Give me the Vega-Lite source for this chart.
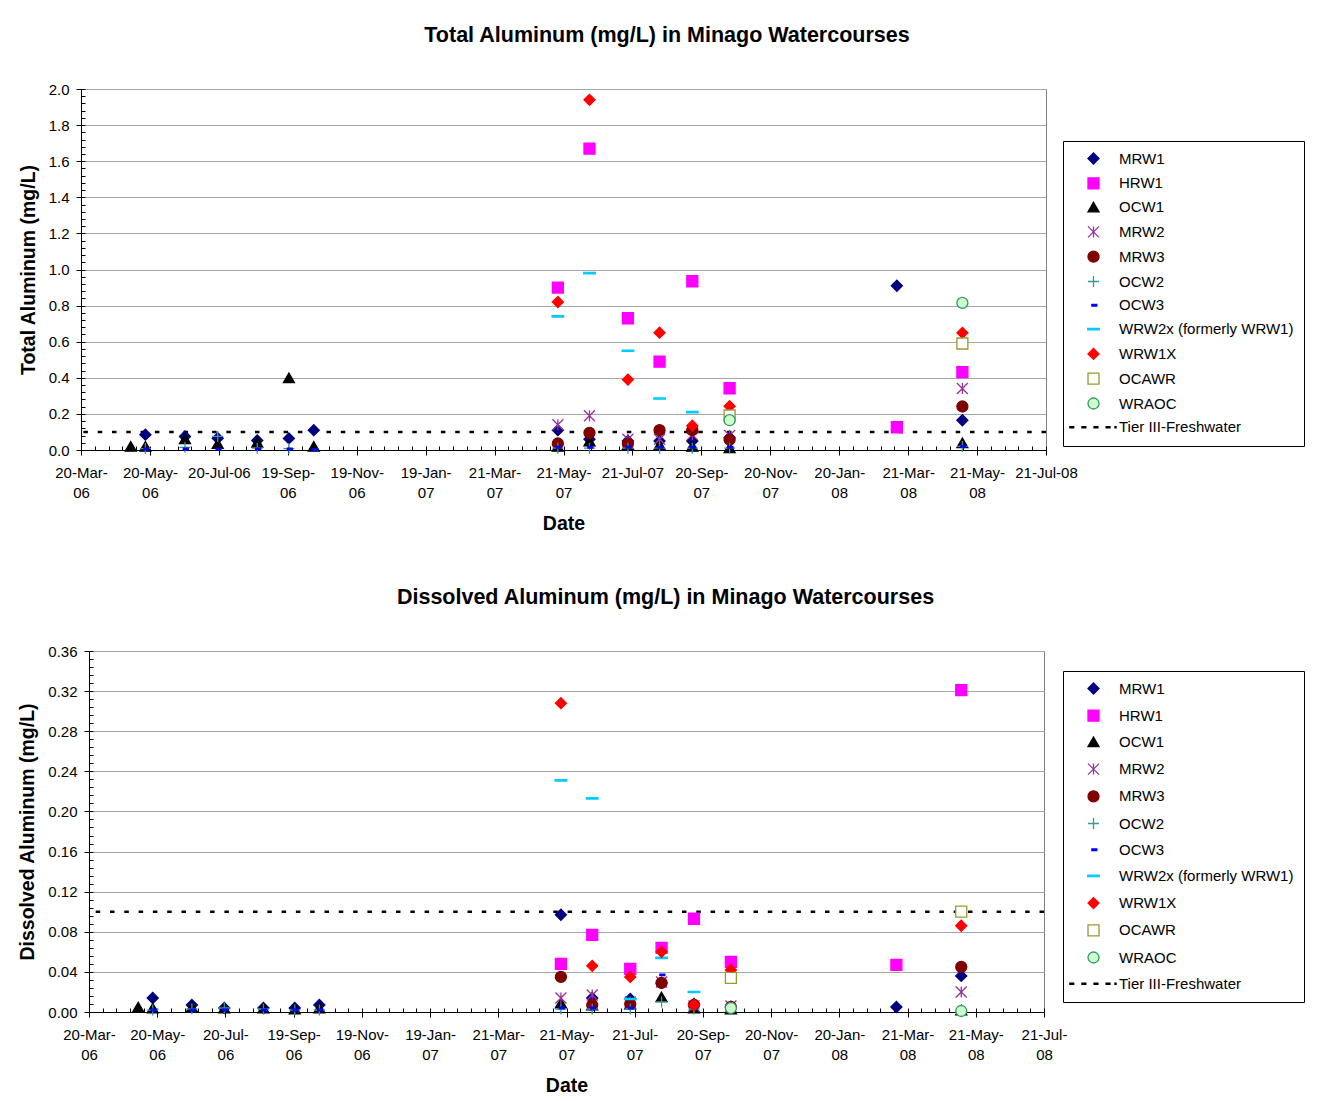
{
  "$schema": "https://vega.github.io/schema/vega-lite/v6.json",
  "background": "white",
  "padding": {"left": 16, "top": 24, "right": 0, "bottom": 0},
  "spacing": 53,
  "resolve": {"scale": {"shape": "independent", "fill": "independent", "stroke": "independent", "x": "independent", "y": "independent"}, "legend": {"shape": "independent", "fill": "independent", "stroke": "independent"}},
  "datasets": {
    "guideline": [{"label": "Tier III-Freshwater", "value": 0.1}],
    "total": [
      {"date": "2006-05-16", "series": "MRW1", "value": 0.085},
      {"date": "2006-06-20", "series": "MRW1", "value": 0.075},
      {"date": "2006-07-19", "series": "MRW1", "value": 0.065},
      {"date": "2006-08-23", "series": "MRW1", "value": 0.053},
      {"date": "2006-09-20", "series": "MRW1", "value": 0.064},
      {"date": "2006-10-12", "series": "MRW1", "value": 0.11},
      {"date": "2007-05-16", "series": "MRW1", "value": 0.11},
      {"date": "2007-06-13", "series": "MRW1", "value": 0.06},
      {"date": "2007-07-17", "series": "MRW1", "value": 0.05},
      {"date": "2007-08-14", "series": "MRW1", "value": 0.05},
      {"date": "2007-09-12", "series": "MRW1", "value": 0.05},
      {"date": "2007-10-15", "series": "MRW1", "value": 0.068},
      {"date": "2008-03-11", "series": "MRW1", "value": 0.91},
      {"date": "2008-05-08", "series": "MRW1", "value": 0.165},
      {"date": "2007-05-16", "series": "HRW1", "value": 0.9},
      {"date": "2007-06-13", "series": "HRW1", "value": 1.67},
      {"date": "2007-07-17", "series": "HRW1", "value": 0.73},
      {"date": "2007-08-14", "series": "HRW1", "value": 0.49},
      {"date": "2007-09-12", "series": "HRW1", "value": 0.935},
      {"date": "2007-10-15", "series": "HRW1", "value": 0.342},
      {"date": "2008-03-11", "series": "HRW1", "value": 0.126},
      {"date": "2008-05-08", "series": "HRW1", "value": 0.431},
      {"date": "2006-05-03", "series": "OCW1", "value": 0.02},
      {"date": "2006-05-16", "series": "OCW1", "value": 0.02},
      {"date": "2006-06-20", "series": "OCW1", "value": 0.062},
      {"date": "2006-07-19", "series": "OCW1", "value": 0.036},
      {"date": "2006-08-23", "series": "OCW1", "value": 0.043},
      {"date": "2006-09-20", "series": "OCW1", "value": 0.4},
      {"date": "2006-10-12", "series": "OCW1", "value": 0.02},
      {"date": "2007-05-16", "series": "OCW1", "value": 0.02},
      {"date": "2007-06-13", "series": "OCW1", "value": 0.05},
      {"date": "2007-07-17", "series": "OCW1", "value": 0.03},
      {"date": "2007-08-14", "series": "OCW1", "value": 0.03},
      {"date": "2007-09-12", "series": "OCW1", "value": 0.02},
      {"date": "2007-10-15", "series": "OCW1", "value": 0.012},
      {"date": "2008-05-08", "series": "OCW1", "value": 0.04},
      {"date": "2007-05-16", "series": "MRW2", "value": 0.14},
      {"date": "2007-06-13", "series": "MRW2", "value": 0.19},
      {"date": "2007-07-17", "series": "MRW2", "value": 0.06},
      {"date": "2007-08-14", "series": "MRW2", "value": 0.06},
      {"date": "2007-09-12", "series": "MRW2", "value": 0.085},
      {"date": "2007-10-15", "series": "MRW2", "value": 0.08},
      {"date": "2008-05-08", "series": "MRW2", "value": 0.341},
      {"date": "2007-05-16", "series": "MRW3", "value": 0.036},
      {"date": "2007-06-13", "series": "MRW3", "value": 0.095},
      {"date": "2007-07-17", "series": "MRW3", "value": 0.035},
      {"date": "2007-08-14", "series": "MRW3", "value": 0.11},
      {"date": "2007-09-12", "series": "MRW3", "value": 0.11},
      {"date": "2007-10-15", "series": "MRW3", "value": 0.058},
      {"date": "2008-05-08", "series": "MRW3", "value": 0.241},
      {"date": "2006-05-16", "series": "OCW2", "value": 0.008},
      {"date": "2006-06-20", "series": "OCW2", "value": 0.015},
      {"date": "2006-07-19", "series": "OCW2", "value": 0.075},
      {"date": "2006-08-23", "series": "OCW2", "value": 0.01},
      {"date": "2006-09-20", "series": "OCW2", "value": 0.008},
      {"date": "2007-05-16", "series": "OCW2", "value": 0.01},
      {"date": "2007-06-13", "series": "OCW2", "value": 0.01},
      {"date": "2007-07-17", "series": "OCW2", "value": 0.01},
      {"date": "2007-08-14", "series": "OCW2", "value": 0.01},
      {"date": "2007-09-12", "series": "OCW2", "value": 0.01},
      {"date": "2007-10-15", "series": "OCW2", "value": 0.01},
      {"date": "2008-05-08", "series": "OCW2", "value": 0.02},
      {"date": "2006-05-16", "series": "OCW3", "value": 0.005},
      {"date": "2006-06-20", "series": "OCW3", "value": 0.005},
      {"date": "2006-07-19", "series": "OCW3", "value": 0.005},
      {"date": "2006-08-23", "series": "OCW3", "value": 0.005},
      {"date": "2006-09-20", "series": "OCW3", "value": 0.005},
      {"date": "2006-10-12", "series": "OCW3", "value": 0.003},
      {"date": "2007-05-16", "series": "OCW3", "value": 0.015},
      {"date": "2007-06-13", "series": "OCW3", "value": 0.015},
      {"date": "2007-07-17", "series": "OCW3", "value": 0.015},
      {"date": "2007-08-14", "series": "OCW3", "value": 0.015},
      {"date": "2007-09-12", "series": "OCW3", "value": 0.015},
      {"date": "2007-10-15", "series": "OCW3", "value": 0.015},
      {"date": "2008-05-08", "series": "OCW3", "value": 0.02},
      {"date": "2007-05-16", "series": "WRW2x (formerly WRW1)", "value": 0.74},
      {"date": "2007-06-13", "series": "WRW2x (formerly WRW1)", "value": 0.98},
      {"date": "2007-07-17", "series": "WRW2x (formerly WRW1)", "value": 0.55},
      {"date": "2007-08-14", "series": "WRW2x (formerly WRW1)", "value": 0.285},
      {"date": "2007-09-12", "series": "WRW2x (formerly WRW1)", "value": 0.21},
      {"date": "2007-05-16", "series": "WRW1X", "value": 0.82},
      {"date": "2007-06-13", "series": "WRW1X", "value": 1.94},
      {"date": "2007-07-17", "series": "WRW1X", "value": 0.39},
      {"date": "2007-08-14", "series": "WRW1X", "value": 0.65},
      {"date": "2007-09-12", "series": "WRW1X", "value": 0.135},
      {"date": "2007-10-15", "series": "WRW1X", "value": 0.243},
      {"date": "2008-05-08", "series": "WRW1X", "value": 0.649},
      {"date": "2007-10-15", "series": "OCAWR", "value": 0.191},
      {"date": "2008-05-08", "series": "OCAWR", "value": 0.59},
      {"date": "2007-10-15", "series": "WRAOC", "value": 0.165},
      {"date": "2008-05-08", "series": "WRAOC", "value": 0.815}
    ],
    "dissolved": [
      {"date": "2006-05-16", "series": "MRW1", "value": 0.014},
      {"date": "2006-06-20", "series": "MRW1", "value": 0.007},
      {"date": "2006-07-19", "series": "MRW1", "value": 0.004},
      {"date": "2006-08-23", "series": "MRW1", "value": 0.004},
      {"date": "2006-09-20", "series": "MRW1", "value": 0.004},
      {"date": "2006-10-12", "series": "MRW1", "value": 0.007},
      {"date": "2007-05-16", "series": "MRW1", "value": 0.097},
      {"date": "2007-06-13", "series": "MRW1", "value": 0.014},
      {"date": "2007-07-17", "series": "MRW1", "value": 0.013},
      {"date": "2007-08-14", "series": "MRW1", "value": 0.029},
      {"date": "2007-09-12", "series": "MRW1", "value": 0.008},
      {"date": "2007-10-15", "series": "MRW1", "value": 0.005},
      {"date": "2008-03-11", "series": "MRW1", "value": 0.005},
      {"date": "2008-05-08", "series": "MRW1", "value": 0.036},
      {"date": "2007-05-16", "series": "HRW1", "value": 0.048},
      {"date": "2007-06-13", "series": "HRW1", "value": 0.077},
      {"date": "2007-07-17", "series": "HRW1", "value": 0.043},
      {"date": "2007-08-14", "series": "HRW1", "value": 0.064},
      {"date": "2007-09-12", "series": "HRW1", "value": 0.093},
      {"date": "2007-10-15", "series": "HRW1", "value": 0.05},
      {"date": "2008-03-11", "series": "HRW1", "value": 0.047},
      {"date": "2008-05-08", "series": "HRW1", "value": 0.321},
      {"date": "2006-05-03", "series": "OCW1", "value": 0.005},
      {"date": "2006-05-16", "series": "OCW1", "value": 0.004},
      {"date": "2006-06-20", "series": "OCW1", "value": 0.005},
      {"date": "2006-07-19", "series": "OCW1", "value": 0.004},
      {"date": "2006-08-23", "series": "OCW1", "value": 0.004},
      {"date": "2006-09-20", "series": "OCW1", "value": 0.003},
      {"date": "2006-10-12", "series": "OCW1", "value": 0.004},
      {"date": "2007-05-16", "series": "OCW1", "value": 0.009},
      {"date": "2007-06-13", "series": "OCW1", "value": 0.007},
      {"date": "2007-07-17", "series": "OCW1", "value": 0.008},
      {"date": "2007-08-14", "series": "OCW1", "value": 0.015},
      {"date": "2007-09-12", "series": "OCW1", "value": 0.004},
      {"date": "2007-10-15", "series": "OCW1", "value": 0.003},
      {"date": "2008-05-08", "series": "OCW1", "value": 0.002},
      {"date": "2007-05-16", "series": "MRW2", "value": 0.014},
      {"date": "2007-06-13", "series": "MRW2", "value": 0.017},
      {"date": "2007-07-17", "series": "MRW2", "value": 0.01},
      {"date": "2007-08-14", "series": "MRW2", "value": 0.03},
      {"date": "2007-09-12", "series": "MRW2", "value": 0.006},
      {"date": "2007-10-15", "series": "MRW2", "value": 0.006},
      {"date": "2008-05-08", "series": "MRW2", "value": 0.02},
      {"date": "2007-05-16", "series": "MRW3", "value": 0.035},
      {"date": "2007-06-13", "series": "MRW3", "value": 0.007},
      {"date": "2007-07-17", "series": "MRW3", "value": 0.008},
      {"date": "2007-08-14", "series": "MRW3", "value": 0.029},
      {"date": "2007-09-12", "series": "MRW3", "value": 0.007},
      {"date": "2007-10-15", "series": "MRW3", "value": 0.005},
      {"date": "2008-05-08", "series": "MRW3", "value": 0.045},
      {"date": "2006-05-16", "series": "OCW2", "value": 0.002},
      {"date": "2006-06-20", "series": "OCW2", "value": 0.003},
      {"date": "2006-07-19", "series": "OCW2", "value": 0.004},
      {"date": "2006-08-23", "series": "OCW2", "value": 0.003},
      {"date": "2006-09-20", "series": "OCW2", "value": 0.002},
      {"date": "2006-10-12", "series": "OCW2", "value": 0.002},
      {"date": "2007-05-16", "series": "OCW2", "value": 0.003},
      {"date": "2007-06-13", "series": "OCW2", "value": 0.003},
      {"date": "2007-07-17", "series": "OCW2", "value": 0.003},
      {"date": "2007-08-14", "series": "OCW2", "value": 0.01},
      {"date": "2007-09-12", "series": "OCW2", "value": 0.003},
      {"date": "2006-05-16", "series": "OCW3", "value": 0.002},
      {"date": "2006-06-20", "series": "OCW3", "value": 0.002},
      {"date": "2006-07-19", "series": "OCW3", "value": 0.002},
      {"date": "2006-08-23", "series": "OCW3", "value": 0.002},
      {"date": "2006-09-20", "series": "OCW3", "value": 0.002},
      {"date": "2006-10-12", "series": "OCW3", "value": 0.002},
      {"date": "2007-05-16", "series": "OCW3", "value": 0.004},
      {"date": "2007-06-13", "series": "OCW3", "value": 0.004},
      {"date": "2007-07-17", "series": "OCW3", "value": 0.004},
      {"date": "2007-08-14", "series": "OCW3", "value": 0.037},
      {"date": "2007-09-12", "series": "OCW3", "value": 0.004},
      {"date": "2007-10-15", "series": "OCW3", "value": 0.003},
      {"date": "2007-05-16", "series": "WRW2x (formerly WRW1)", "value": 0.231},
      {"date": "2007-06-13", "series": "WRW2x (formerly WRW1)", "value": 0.213},
      {"date": "2007-07-17", "series": "WRW2x (formerly WRW1)", "value": 0.013},
      {"date": "2007-08-14", "series": "WRW2x (formerly WRW1)", "value": 0.054},
      {"date": "2007-09-12", "series": "WRW2x (formerly WRW1)", "value": 0.02},
      {"date": "2007-05-16", "series": "WRW1X", "value": 0.308},
      {"date": "2007-06-13", "series": "WRW1X", "value": 0.046},
      {"date": "2007-07-17", "series": "WRW1X", "value": 0.035},
      {"date": "2007-08-14", "series": "WRW1X", "value": 0.06},
      {"date": "2007-09-12", "series": "WRW1X", "value": 0.007},
      {"date": "2007-10-15", "series": "WRW1X", "value": 0.042},
      {"date": "2008-05-08", "series": "WRW1X", "value": 0.086},
      {"date": "2007-10-15", "series": "OCAWR", "value": 0.034},
      {"date": "2008-05-08", "series": "OCAWR", "value": 0.1},
      {"date": "2007-10-15", "series": "WRAOC", "value": 0.004},
      {"date": "2008-05-08", "series": "WRAOC", "value": 0.001}
    ]
  },
  "vconcat": [
    {"spacing": 0, "hconcat": [
    {"width": 1, "height": 1, "data": {"values": []}, "mark": "point", "view": {"stroke": null}},
    {
      "width": 965,
      "height": 361,
      "title": {"text": "Total Aluminum (mg/L) in Minago Watercourses", "dx": 103.5, "offset": 36},
      "resolve": {"axis": {"x": "independent", "y": "independent"}},
      "layer": [
        {
          "data": {"name": "guideline"},
          "mark": {"type": "rule", "color": "#000000", "strokeWidth": 2.5, "strokeDash": [4.5, 9.8]},
          "encoding": {
            "y": {"field": "value", "type": "quantitative", "scale": {"domain": [0, 2], "nice": false, "zero": false},
              "axis": {"orient": "left", "values": [0,0.04,0.08,0.12,0.16,0.2,0.24,0.28,0.32,0.36,0.4,0.44,0.48,0.52,0.56,0.6,0.64,0.68,0.72,0.76,0.8,0.84,0.88,0.92,0.96,1,1.04,1.08,1.12,1.16,1.2,1.24,1.28,1.32,1.36,1.4,1.44,1.48,1.52,1.56,1.6,1.64,1.68,1.72,1.76,1.8,1.84,1.88,1.92,1.96,2],
                "labels": false, "domain": false, "grid": false, "tickSize": 4, "offset": -4, "title": null}}
          }
        },
        {
          "data": {"name": "total"},
          "mark": {"type": "point", "opacity": 0},
          "encoding": {
            "x": {"field": "date", "type": "temporal", "scale": {"type": "utc", "domain": [1142812800000, 1216598400000], "nice": false},
              "axis": {"orient": "bottom", "values": [1142812800000,1143866880000,1144920960000,1145975040000,1147029120000,1148083200000,1149137280000,1150191360000,1151245440000,1152299520000,1153353600000,1154407680000,1155461760000,1156515840000,1157569920000,1158624000000,1159678080000,1160732160000,1161786240000,1162840320000,1163894400000,1164948480000,1166002560000,1167056640000,1168110720000,1169164800000,1170218880000,1171272960000,1172327040000,1173381120000,1174435200000,1175489280000,1176543360000,1177597440000,1178651520000,1179705600000,1180759680000,1181813760000,1182867840000,1183921920000,1184976000000,1186030080000,1187084160000,1188138240000,1189192320000,1190246400000,1191300480000,1192354560000,1193408640000,1194462720000,1195516800000,1196570880000,1197624960000,1198679040000,1199733120000,1200787200000,1201841280000,1202895360000,1203949440000,1205003520000,1206057600000,1207111680000,1208165760000,1209219840000,1210273920000,1211328000000,1212382080000,1213436160000,1214490240000,1215544320000,1216598400000],
                "labels": false, "domain": false, "grid": false, "tickSize": 4, "offset": -4, "title": null}},
            "y": {"field": "value", "type": "quantitative", "scale": {"domain": [0, 2], "nice": false, "zero": false}, "axis": null}
          }
        },
        {
          "data": {"name": "total"},
          "mark": {"type": "point", "size": 121, "strokeWidth": 1.3, "opacity": 1},
          "encoding": {
            "x": {"field": "date", "type": "temporal", "scale": {"type": "utc", "domain": [1142812800000, 1216598400000], "nice": false},
              "axis": {"orient": "bottom", "values": [1142812800000,1148083200000,1153353600000,1158624000000,1163894400000,1169164800000,1174435200000,1179705600000,1184976000000,1190246400000,1195516800000,1200787200000,1206057600000,1211328000000,1216598400000],
                "labelExpr": "utcmonth(datum.value) == 6 ? utcFormat(datum.value, '%d-%b-%y') : [utcFormat(datum.value, '%d-%b-'), utcFormat(datum.value, '%y')]",
                "labelLineHeight": 20, "labelFlush": false, "labelOverlap": false, "labelBound": false,
                "tickSize": 5, "labelPadding": 10, "grid": false, "title": "Date", "titlePadding": 14}},
            "y": {"field": "value", "type": "quantitative", "scale": {"domain": [0, 2], "nice": false, "zero": false},
              "axis": {"orient": "left", "values": [0,0.2,0.4,0.6,0.8,1,1.2,1.4,1.6,1.8,2], "format": ".1f", "grid": true,
                "tickSize": 5, "labelPadding": 7, "labelFlush": false, "labelOverlap": false, "title": "Total Aluminum (mg/L)", "titlePadding": 10}},
            "shape": {"field": "series", "type": "nominal",
              "scale": {"domain": ["MRW1","HRW1","OCW1","MRW2","MRW3","OCW2","OCW3","WRW2x (formerly WRW1)","WRW1X","OCAWR","WRAOC","Tier III-Freshwater"],
                "range": ["diamond","square","triangle-up","M-1,-1L1,1M-1,1L1,-1M0,-1L0,1","circle","M-1,0L1,0M0,-1L0,1","M-0.3,-0.15L0.6,-0.15L0.6,0.15L-0.3,0.15Z","M-1.05,-0.12L1.05,-0.12L1.05,0.12L-1.05,0.12Z","diamond","square","circle","M-4.3,-0.1L-3.6,-0.1L-3.6,0.1L-4.3,0.1ZM-2.1,-0.1L-1.4,-0.1L-1.4,0.1L-2.1,0.1ZM0.1,-0.1L0.8,-0.1L0.8,0.1L0.1,0.1ZM2.3,-0.1L3,-0.1L3,0.1L2.3,0.1ZM3.9,-0.1L4.1,-0.1L4.1,0.1L3.9,0.1Z"]},
              "legend": {"orient": "none", "legendX": 1047, "legendY": 52, "direction": "vertical", "title": null, "rowPadding": 7.8}},
            "fill": {"field": "series", "type": "nominal",
              "scale": {"domain": ["MRW1","HRW1","OCW1","MRW2","MRW3","OCW2","OCW3","WRW2x (formerly WRW1)","WRW1X","OCAWR","WRAOC","Tier III-Freshwater"],
                "range": ["#000080","#FF00FF","#000000","transparent","#800000","transparent","#0000FF","#00CCFF","#FF0000","#FFFFFF","#CCFFCC","#000000"]},
              "legend": {"orient": "none", "legendX": 1047, "legendY": 52, "direction": "vertical", "title": null, "rowPadding": 7.8}},
            "stroke": {"field": "series", "type": "nominal",
              "scale": {"domain": ["MRW1","HRW1","OCW1","MRW2","MRW3","OCW2","OCW3","WRW2x (formerly WRW1)","WRW1X","OCAWR","WRAOC","Tier III-Freshwater"],
                "range": ["#000080","#FF00FF","#000000","#993399","#800000","#339999","#0000FF","#00CCFF","#FF0000","#999933","#339966","#000000"]},
              "legend": {"orient": "none", "legendX": 1047, "legendY": 52, "direction": "vertical", "title": null, "rowPadding": 7.8}}
          }
        }
      ]
    }
    ]},
    {"spacing": 0, "hconcat": [
    {"width": 1, "height": 1, "data": {"values": []}, "mark": "point", "view": {"stroke": null}},
    {
      "width": 955,
      "height": 361,
      "title": {"text": "Dissolved Aluminum (mg/L) in Minago Watercourses", "dx": 99, "offset": 36},
      "resolve": {"axis": {"x": "independent", "y": "independent"}},
      "layer": [
        {
          "data": {"name": "guideline"},
          "mark": {"type": "rule", "color": "#000000", "strokeWidth": 2.5, "strokeDash": [4.5, 9.8]},
          "encoding": {
            "y": {"field": "value", "type": "quantitative", "scale": {"domain": [0, 0.36], "nice": false, "zero": false},
              "axis": {"orient": "left", "values": [0,0.008,0.016,0.024,0.032,0.04,0.048,0.056,0.064,0.072,0.08,0.088,0.096,0.104,0.112,0.12,0.128,0.136,0.144,0.152,0.16,0.168,0.176,0.184,0.192,0.2,0.208,0.216,0.224,0.232,0.24,0.248,0.256,0.264,0.272,0.28,0.288,0.296,0.304,0.312,0.32,0.328,0.336,0.344,0.352,0.36],
                "labels": false, "domain": false, "grid": false, "tickSize": 4, "offset": -4, "title": null}}
          }
        },
        {
          "data": {"name": "dissolved"},
          "mark": {"type": "point", "opacity": 0},
          "encoding": {
            "x": {"field": "date", "type": "temporal", "scale": {"type": "utc", "domain": [1142812800000, 1216598400000], "nice": false},
              "axis": {"orient": "bottom", "values": [1142812800000,1143866880000,1144920960000,1145975040000,1147029120000,1148083200000,1149137280000,1150191360000,1151245440000,1152299520000,1153353600000,1154407680000,1155461760000,1156515840000,1157569920000,1158624000000,1159678080000,1160732160000,1161786240000,1162840320000,1163894400000,1164948480000,1166002560000,1167056640000,1168110720000,1169164800000,1170218880000,1171272960000,1172327040000,1173381120000,1174435200000,1175489280000,1176543360000,1177597440000,1178651520000,1179705600000,1180759680000,1181813760000,1182867840000,1183921920000,1184976000000,1186030080000,1187084160000,1188138240000,1189192320000,1190246400000,1191300480000,1192354560000,1193408640000,1194462720000,1195516800000,1196570880000,1197624960000,1198679040000,1199733120000,1200787200000,1201841280000,1202895360000,1203949440000,1205003520000,1206057600000,1207111680000,1208165760000,1209219840000,1210273920000,1211328000000,1212382080000,1213436160000,1214490240000,1215544320000,1216598400000],
                "labels": false, "domain": false, "grid": false, "tickSize": 4, "offset": -4, "title": null}},
            "y": {"field": "value", "type": "quantitative", "scale": {"domain": [0, 0.36], "nice": false, "zero": false}, "axis": null}
          }
        },
        {
          "data": {"name": "dissolved"},
          "mark": {"type": "point", "size": 121, "strokeWidth": 1.3, "opacity": 1},
          "encoding": {
            "x": {"field": "date", "type": "temporal", "scale": {"type": "utc", "domain": [1142812800000, 1216598400000], "nice": false},
              "axis": {"orient": "bottom", "values": [1142812800000,1148083200000,1153353600000,1158624000000,1163894400000,1169164800000,1174435200000,1179705600000,1184976000000,1190246400000,1195516800000,1200787200000,1206057600000,1211328000000,1216598400000],
                "labelExpr": "[utcFormat(datum.value, '%d-%b-'), utcFormat(datum.value, '%y')]",
                "labelLineHeight": 20, "labelFlush": false, "labelOverlap": false, "labelBound": false,
                "tickSize": 5, "labelPadding": 10, "grid": false, "title": "Date", "titlePadding": 14}},
            "y": {"field": "value", "type": "quantitative", "scale": {"domain": [0, 0.36], "nice": false, "zero": false},
              "axis": {"orient": "left", "values": [0,0.04,0.08,0.12,0.16,0.2,0.24,0.28,0.32,0.36], "format": ".2f", "grid": true,
                "tickSize": 5, "labelPadding": 7, "labelFlush": false, "labelOverlap": false, "title": "Dissolved Aluminum (mg/L)", "titlePadding": 10}},
            "shape": {"field": "series", "type": "nominal",
              "scale": {"domain": ["MRW1","HRW1","OCW1","MRW2","MRW3","OCW2","OCW3","WRW2x (formerly WRW1)","WRW1X","OCAWR","WRAOC","Tier III-Freshwater"],
                "range": ["diamond","square","triangle-up","M-1,-1L1,1M-1,1L1,-1M0,-1L0,1","circle","M-1,0L1,0M0,-1L0,1","M-0.3,-0.15L0.6,-0.15L0.6,0.15L-0.3,0.15Z","M-1.05,-0.12L1.05,-0.12L1.05,0.12L-1.05,0.12Z","diamond","square","circle","M-4.3,-0.1L-3.6,-0.1L-3.6,0.1L-4.3,0.1ZM-2.1,-0.1L-1.4,-0.1L-1.4,0.1L-2.1,0.1ZM0.1,-0.1L0.8,-0.1L0.8,0.1L0.1,0.1ZM2.3,-0.1L3,-0.1L3,0.1L2.3,0.1ZM3.9,-0.1L4.1,-0.1L4.1,0.1L3.9,0.1Z"]},
              "legend": {"orient": "none", "legendX": 1047, "legendY": 20, "direction": "vertical", "title": null, "rowPadding": 10.2}},
            "fill": {"field": "series", "type": "nominal",
              "scale": {"domain": ["MRW1","HRW1","OCW1","MRW2","MRW3","OCW2","OCW3","WRW2x (formerly WRW1)","WRW1X","OCAWR","WRAOC","Tier III-Freshwater"],
                "range": ["#000080","#FF00FF","#000000","transparent","#800000","transparent","#0000FF","#00CCFF","#FF0000","#FFFFFF","#CCFFCC","#000000"]},
              "legend": {"orient": "none", "legendX": 1047, "legendY": 20, "direction": "vertical", "title": null, "rowPadding": 10.2}},
            "stroke": {"field": "series", "type": "nominal",
              "scale": {"domain": ["MRW1","HRW1","OCW1","MRW2","MRW3","OCW2","OCW3","WRW2x (formerly WRW1)","WRW1X","OCAWR","WRAOC","Tier III-Freshwater"],
                "range": ["#000080","#FF00FF","#000000","#993399","#800000","#339999","#0000FF","#00CCFF","#FF0000","#999933","#339966","#000000"]},
              "legend": {"orient": "none", "legendX": 1047, "legendY": 20, "direction": "vertical", "title": null, "rowPadding": 10.2}}
          }
        }
      ]
    }
    ]}
  ],
  "config": {
    "font": "Liberation Sans",
    "view": {"stroke": "#808080", "strokeWidth": 1},
    "axis": {"labelFont": "Liberation Sans", "labelFontSize": 15, "labelColor": "#000000", "titleFont": "Liberation Sans", "titleFontSize": 19.5, "titleFontWeight": "bold", "titleColor": "#000000", "domainColor": "#000000", "tickColor": "#000000", "gridColor": "#a6a6a6", "domainWidth": 1, "tickWidth": 1},
    "title": {"font": "Liberation Sans", "fontSize": 21.5, "fontWeight": "bold", "color": "#000000", "anchor": "middle"},
    "legend": {"padding": 10, "strokeColor": "#000000", "fillColor": "#FFFFFF", "symbolOffset": 13, "labelOffset": 18, "labelFont": "Liberation Sans", "labelFontSize": 15, "labelColor": "#000000", "symbolSize": 121, "symbolStrokeWidth": 1.3, "labelLimit": 400}
  }
}
